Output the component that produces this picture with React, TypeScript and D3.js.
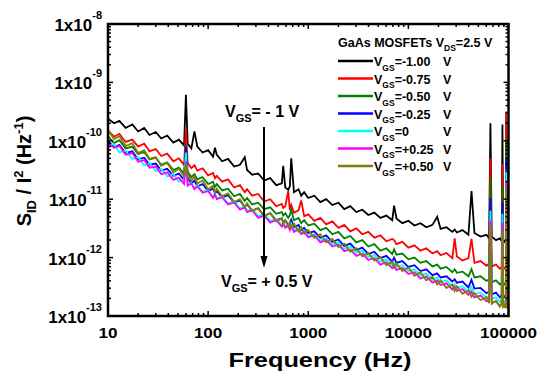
import React from 'react';
import * as d3 from 'd3';

// shared frequency grid (Hz)
const freq = [
  10, 11.5, 13, 15, 17.5, 20, 23, 26, 30, 34,
  39, 45, 51, 57.5, 60, 62.5, 68, 73, 78, 88,
  100, 112, 117, 122, 138, 158, 182, 208, 232, 245,
  275, 316, 363, 417, 479, 545, 562, 590, 631, 655,
  676, 720, 800, 851, 910, 1000, 1150, 1320, 1510, 1740,
  2000, 2290, 2630, 3020, 3470, 3980, 4570, 5250, 6030, 6900,
  7200, 7600, 8700, 10000, 11500, 13200, 15100, 17400, 19400, 21000,
  24000, 27500, 29000, 30500, 34700, 39800, 42700, 45700, 52500, 60300,
  64000, 66000, 68000, 75000, 82000, 85500, 87000, 88500, 92000, 94000,
  95000, 96000, 100000,
];

// log10(S_ID / I^2) for each V_GS
const vgsM100 = [
  -9.62, -9.70, -9.66, -9.78, -9.72, -9.84, -9.78, -9.90, -9.85, -9.96,
  -9.91, -10.03, -9.98, -10.08, -9.21, -10.05, -10.13, -9.84, -10.10, -10.20,
  -10.16, -10.27, -10.12, -10.24, -10.35, -10.31, -10.44, -10.41, -10.28, -10.50,
  -10.58, -10.56, -10.68, -10.64, -10.76, -10.73, -10.43, -10.80, -10.84, -10.78,
  -10.30, -10.88, -10.83, -10.94, -10.88, -10.98, -10.94, -11.05, -11.00, -11.10,
  -11.06, -11.17, -11.12, -11.22, -11.18, -11.27, -11.23, -11.32, -11.28, -11.36,
  -11.11, -11.33, -11.41, -11.37, -11.45, -11.41, -11.48, -11.44, -11.30, -11.51,
  -11.48, -11.56, -11.52, -11.57, -11.53, -11.61, -10.86, -11.58, -11.64, -11.61,
  -11.67, -9.70, -11.64, -11.70, -11.67, -11.72, -9.72, -11.69, -11.73, -11.70,
  -9.55, -11.72, -11.74,
];
const vgsM075 = [
  -9.82, -9.93, -9.88, -10.02, -9.98, -10.10, -10.05, -10.18, -10.14, -10.26,
  -10.22, -10.35, -10.30, -10.41, -9.80, -10.38, -10.47, -10.42, -10.51, -10.47,
  -10.59, -10.55, -10.64, -10.60, -10.70, -10.66, -10.80, -10.76, -10.88, -10.83,
  -10.94, -10.91, -11.04, -11.00, -11.12, -11.08, -11.15, -11.12, -10.86, -11.19,
  -11.10, -11.23, -11.19, -11.02, -11.29, -11.26, -11.37, -11.32, -11.43, -11.38,
  -11.49, -11.44, -11.55, -11.50, -11.60, -11.56, -11.66, -11.62, -11.72, -11.68,
  -11.70, -11.77, -11.73, -11.83, -11.79, -11.88, -11.84, -11.93, -11.89, -11.96,
  -11.92, -12.01, -11.67, -11.98, -12.05, -12.01, -11.68, -12.09, -12.06, -12.14,
  -12.10, -10.30, -12.15, -12.12, -12.19, -12.16, -10.40, -12.20, -12.17, -12.21,
  -9.50, -12.19, -12.22,
];
const vgsM050 = [
  -9.92, -10.04, -9.99, -10.13, -10.10, -10.23, -10.19, -10.32, -10.29, -10.41,
  -10.37, -10.50, -10.46, -10.56, -10.05, -10.53, -10.62, -10.57, -10.66, -10.62,
  -10.74, -10.70, -10.79, -10.74, -10.85, -10.82, -10.95, -10.91, -11.03, -10.98,
  -11.09, -11.06, -11.17, -11.14, -11.25, -11.22, -11.28, -11.24, -11.32, -11.27,
  -11.18, -11.36, -11.32, -11.41, -11.36, -11.45, -11.42, -11.53, -11.49, -11.60,
  -11.56, -11.67, -11.63, -11.74, -11.70, -11.81, -11.77, -11.88, -11.84, -11.94,
  -11.86, -11.95, -11.93, -12.03, -12.00, -12.09, -12.06, -12.15, -12.12, -12.19,
  -12.16, -12.25, -12.20, -12.26, -12.24, -12.32, -12.20, -12.34, -12.32, -12.40,
  -12.37, -10.64, -12.42, -12.39, -12.46, -12.43, -10.75, -12.47, -12.44, -12.48,
  -10.00, -12.46, -12.49,
];
const vgsM025 = [
  -10.00, -10.11, -10.07, -10.21, -10.18, -10.32, -10.29, -10.41, -10.39, -10.51,
  -10.48, -10.60, -10.56, -10.67, -10.10, -10.64, -10.73, -10.68, -10.78, -10.74,
  -10.86, -10.82, -10.90, -10.86, -10.97, -10.93, -11.06, -11.02, -11.13, -11.09,
  -11.19, -11.16, -11.28, -11.24, -11.36, -11.33, -11.40, -11.36, -11.44, -11.40,
  -11.35, -11.48, -11.44, -11.53, -11.49, -11.58, -11.55, -11.66, -11.62, -11.73,
  -11.69, -11.80, -11.76, -11.87, -11.83, -11.94, -11.90, -12.01, -11.97, -12.07,
  -12.00, -12.09, -12.06, -12.16, -12.13, -12.23, -12.20, -12.30, -12.27, -12.34,
  -12.32, -12.41, -12.37, -12.43, -12.41, -12.51, -12.38, -12.53, -12.52, -12.61,
  -12.58, -10.98, -12.63, -12.60, -12.68, -12.64, -11.05, -12.69, -12.66, -12.70,
  -10.30, -12.69, -12.72,
];
const vgs0 = [
  -10.08, -10.06, -10.20, -10.17, -10.31, -10.28, -10.42, -10.38, -10.52, -10.48,
  -10.61, -10.57, -10.70, -10.66, -10.20, -10.75, -10.72, -10.81, -10.76, -10.87,
  -10.84, -10.96, -10.90, -10.98, -10.95, -11.07, -11.03, -11.16, -11.12, -11.20,
  -11.17, -11.29, -11.25, -11.37, -11.34, -11.45, -11.40, -11.47, -11.43, -11.50,
  -11.42, -11.53, -11.50, -11.58, -11.54, -11.63, -11.60, -11.71, -11.67, -11.78,
  -11.74, -11.85, -11.81, -11.92, -11.88, -11.99, -11.96, -12.07, -12.03, -12.13,
  -12.09, -12.16, -12.13, -12.23, -12.20, -12.31, -12.27, -12.38, -12.34, -12.42,
  -12.39, -12.49, -12.45, -12.52, -12.49, -12.59, -12.50, -12.62, -12.60, -12.69,
  -12.66, -11.20, -12.71, -12.68, -12.76, -12.72, -11.25, -12.77, -12.74, -12.78,
  -10.50, -12.77, -12.80,
];
const vgsP025 = [
  -10.04, -10.12, -10.09, -10.24, -10.21, -10.36, -10.33, -10.46, -10.44, -10.57,
  -10.54, -10.67, -10.63, -10.74, -10.35, -10.77, -10.73, -10.83, -10.78, -10.89,
  -10.86, -10.98, -10.92, -11.00, -10.97, -11.09, -11.06, -11.18, -11.14, -11.22,
  -11.19, -11.32, -11.28, -11.40, -11.36, -11.47, -11.42, -11.49, -11.45, -11.53,
  -11.46, -11.56, -11.52, -11.60, -11.56, -11.65, -11.62, -11.74, -11.70, -11.81,
  -11.78, -11.89, -11.86, -11.97, -11.93, -12.04, -12.01, -12.12, -12.08, -12.18,
  -12.14, -12.21, -12.18, -12.28, -12.25, -12.36, -12.32, -12.43, -12.39, -12.47,
  -12.44, -12.55, -12.50, -12.57, -12.54, -12.64, -12.58, -12.68, -12.65, -12.75,
  -12.72, -11.37, -12.77, -12.75, -12.83, -12.79, -11.40, -12.84, -12.81, -12.85,
  -10.70, -12.84, -12.87,
];
const vgsP050 = [
  -9.82, -9.97, -9.92, -10.09, -10.04, -10.21, -10.16, -10.31, -10.28, -10.43,
  -10.38, -10.54, -10.48, -10.61, -10.40, -10.57, -10.68, -10.61, -10.73, -10.68,
  -10.83, -10.77, -10.89, -10.82, -10.95, -10.90, -11.05, -11.00, -11.14, -11.07,
  -11.20, -11.15, -11.29, -11.24, -11.38, -11.33, -11.43, -11.36, -11.47, -11.40,
  -11.49, -11.42, -11.55, -11.48, -11.59, -11.53, -11.66, -11.60, -11.74, -11.68,
  -11.82, -11.76, -11.90, -11.84, -11.98, -11.92, -12.05, -11.99, -12.13, -12.07,
  -12.17, -12.10, -12.23, -12.17, -12.31, -12.25, -12.39, -12.33, -12.46, -12.39,
  -12.52, -12.46, -12.57, -12.49, -12.62, -12.56, -12.67, -12.61, -12.73, -12.68,
  -12.78, -11.45, -12.79, -12.74, -12.84, -12.78, -11.50, -12.86, -12.80, -12.87,
  -10.80, -12.83, -12.88,
];

const vgsLabels = ['-1.00', '-0.75', '-0.50', '-0.25', '0', '+0.25', '+0.50'];
const colors = ['#000000', '#ff0000', '#008000', '#0000ff', '#00ffff', '#ff00ff', '#808000'];
const series = [vgsM100, vgsM075, vgsM050, vgsM025, vgs0, vgsP025, vgsP050];

const xTickLabels = ['10', '100', '1000', '10000', '100000'];
const yExponents = [-8, -9, -10, -11, -12, -13];

const W = 540;
const H = 379;
const left = 108;
const right = 508.5;
const top = 24;
const bottom = 316;
const font = '"Liberation Sans", Arial, sans-serif';

export default function App() {
  const x = d3.scaleLog().domain([10, 100000]).range([left, right]);
  const y = d3.scaleLog().domain([1e-13, 1e-8]).range([bottom, top]);

  const line = d3
    .line<number>()
    .x((_, i) => x(freq[i]))
    .y((d) => y(Math.pow(10, d)));

  const isMajor = (v: number) => Math.abs(Math.log10(v) - Math.round(Math.log10(v))) < 1e-9;
  const xTicks = x.ticks();
  const yTicks = y.ticks();

  return (
    <svg
      width={W}
      height={H}
      style={{ position: 'absolute', left: 0, top: 0, background: '#fff' }}
      fontFamily={font}
      fontWeight="bold"
    >
      <defs>
        <clipPath id="plot">
          <rect x={left} y={top} width={right - left} height={bottom - top} />
        </clipPath>
      </defs>

      <g clipPath="url(#plot)" fill="none" strokeWidth={1.8} strokeLinejoin="miter">
        {series.map((s, i) => (
          <path key={i} d={line(s) || ''} stroke={colors[i]} />
        ))}
      </g>

      {/* ticks, inward on all four sides */}
      <g stroke="#000" strokeWidth={1.5}>
        {xTicks.map((t, i) => {
          const len = isMajor(t) ? 5 : 3;
          return (
            <g key={'x' + i}>
              <line x1={x(t)} x2={x(t)} y1={bottom} y2={bottom - len} />
              <line x1={x(t)} x2={x(t)} y1={top} y2={top + len} />
            </g>
          );
        })}
        {yTicks.map((t, i) => {
          const len = isMajor(t) ? 5 : 3;
          return (
            <g key={'y' + i}>
              <line x1={left} x2={left + len} y1={y(t)} y2={y(t)} />
              <line x1={right} x2={right - len} y1={y(t)} y2={y(t)} />
            </g>
          );
        })}
      </g>
      <rect
        x={left}
        y={top}
        width={right - left}
        height={bottom - top}
        fill="none"
        stroke="#000"
        strokeWidth={2.5}
      />

      {/* x tick labels */}
      {xTickLabels.map((l) => (
        <text
          key={l}
          x={x(+l)}
          y={338}
          fontSize={15}
          textAnchor="middle"
          textLength={l.length * 9.5}
          lengthAdjust="spacingAndGlyphs"
        >
          {l}
        </text>
      ))}

      {/* y tick labels */}
      {yExponents.map((e) => (
        <text key={e} x={102} y={y(Math.pow(10, e)) + 7} fontSize={17} textAnchor="end">
          1x10
          <tspan dy={-12} fontSize={11}>
            {e}
          </tspan>
        </text>
      ))}

      {/* axis titles */}
      <text
        x={320}
        y={367}
        fontSize={20}
        textAnchor="middle"
        textLength={183}
        lengthAdjust="spacingAndGlyphs"
      >
        Frequency (Hz)
      </text>
      <text transform="translate(31,171) rotate(-90)" fontSize={20} textAnchor="middle">
        S
        <tspan dy={5} fontSize={13}>
          ID
        </tspan>
        <tspan dy={-5}> / I</tspan>
        <tspan dy={-8} fontSize={13}>
          2
        </tspan>
        <tspan dy={8}> (Hz</tspan>
        <tspan dy={-8} fontSize={13}>
          -1
        </tspan>
        <tspan dy={8}>)</tspan>
      </text>

      {/* legend */}
      <text x={338} y={47} fontSize={12.5}>
        GaAs MOSFETs V
        <tspan dy={4} fontSize={8.5}>
          DS
        </tspan>
        <tspan dy={-4}>=2.5 V</tspan>
      </text>
      {vgsLabels.map((l, i) => {
        const ly = 61 + i * 17.5;
        return (
          <g key={l}>
            <line x1={338} x2={373} y1={ly} y2={ly} stroke={colors[i]} strokeWidth={2.5} />
            <text x={374} y={ly + 5} fontSize={12.5}>
              V
              <tspan dy={4.5} fontSize={8.5}>
                GS
              </tspan>
              <tspan dy={-4.5}>={l}</tspan>
            </text>
            <text x={443} y={ly + 5} fontSize={12.5}>
              V
            </text>
          </g>
        );
      })}

      {/* annotations */}
      <text x={225} y={117} fontSize={16}>
        V
        <tspan dy={5} fontSize={11}>
          GS
        </tspan>
        <tspan dy={-5}>= - 1 V</tspan>
      </text>
      <text x={221} y={287} fontSize={16}>
        V
        <tspan dy={5} fontSize={11}>
          GS
        </tspan>
        <tspan dy={-5}>= + 0.5 V</tspan>
      </text>
      <line x1={264} x2={264} y1={127} y2={258} stroke="#000" strokeWidth={2} />
      <path d="M264,268 L260.5,256 L267.5,256 Z" fill="#000" />
    </svg>
  );
}
